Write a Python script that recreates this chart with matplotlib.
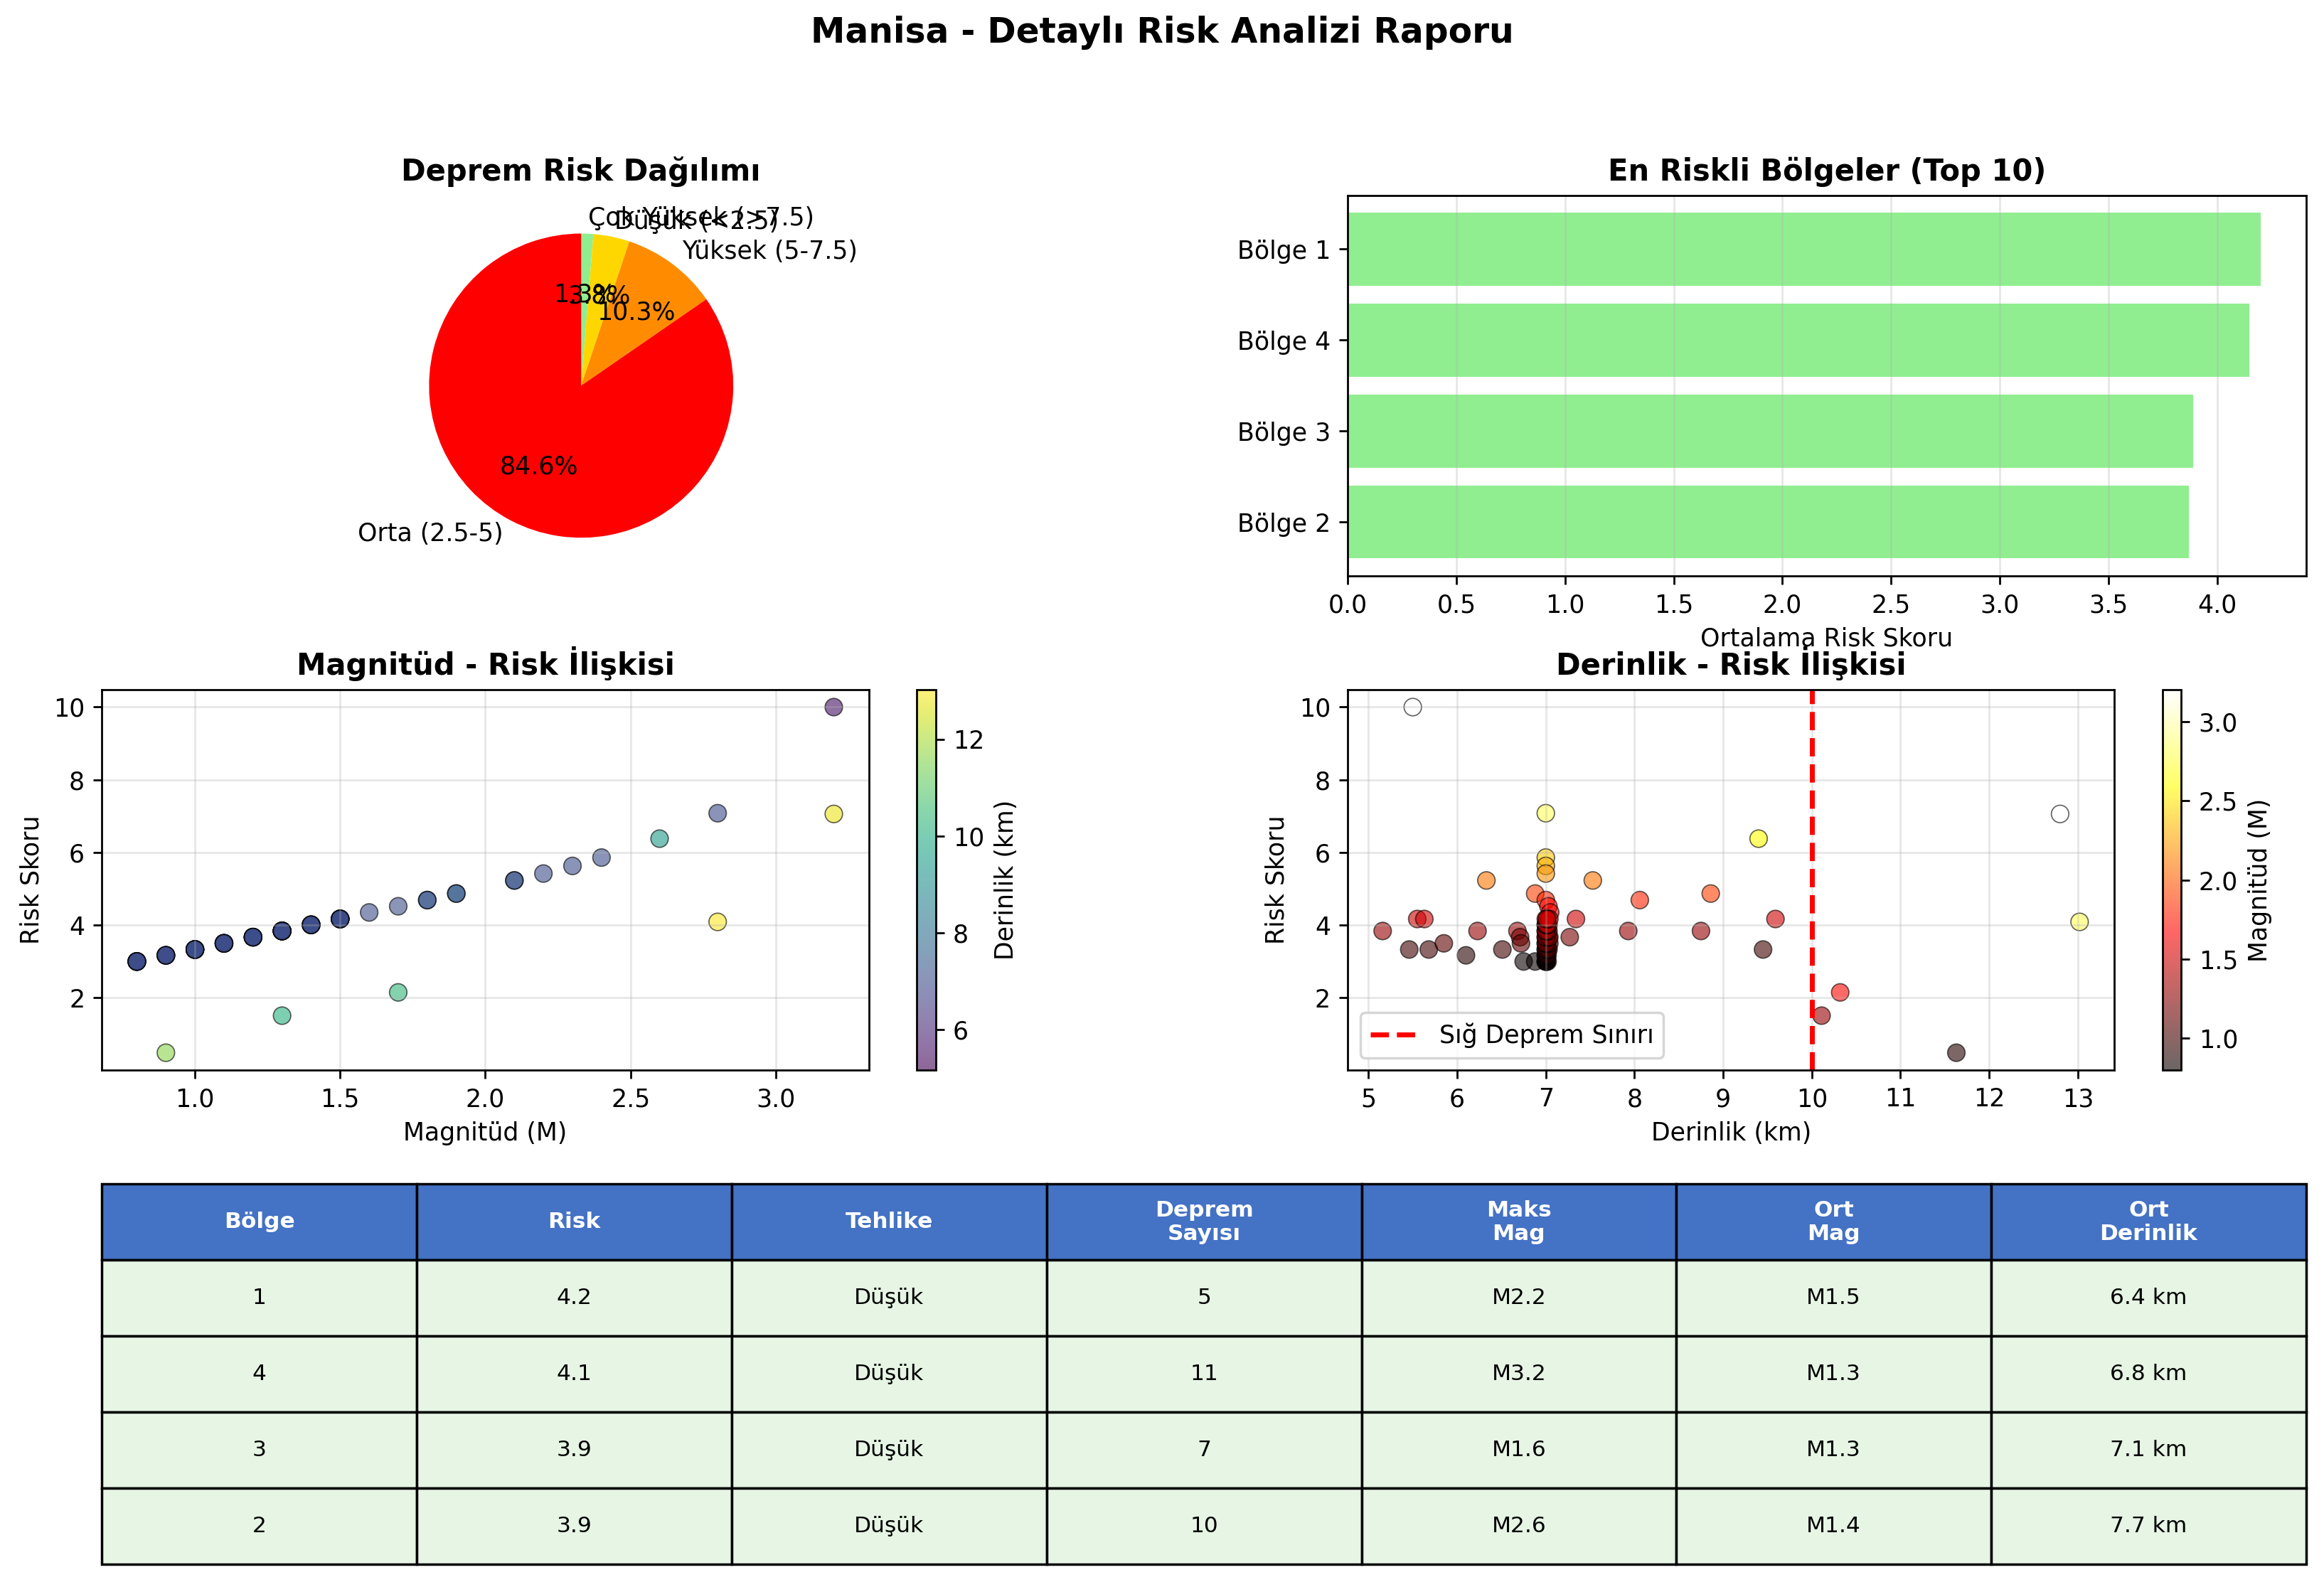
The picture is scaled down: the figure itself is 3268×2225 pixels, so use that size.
import matplotlib
matplotlib.use('Agg')
import matplotlib.pyplot as plt
from matplotlib.gridspec import GridSpec

# --- earthquake events (magnitude, depth km, risk score) ---
magnitudes = [
    3.2, 3.2, 2.8, 2.8, 2.6, 2.4, 2.3, 2.2, 2.1, 2.1,
    1.9, 1.9, 1.8, 1.8, 1.7, 1.7, 1.6,
    1.5, 1.5, 1.5, 1.5,
    1.3, 1.3, 1.3, 1.3, 1.3, 1.3,
    1.0, 1.0, 1.1, 0.9, 1.0, 1.2, 1.1, 1.2, 0.8, 0.8, 1.0, 0.9,
    # cluster at ~7 km
    0.8, 0.8, 0.8, 0.8, 0.8,
    0.9, 0.9, 0.9, 0.9,
    1.0, 1.0, 1.0, 1.0, 1.0,
    1.1, 1.1, 1.1, 1.1, 1.1,
    1.2, 1.2, 1.2, 1.2, 1.2,
    1.3, 1.3, 1.3, 1.3, 1.3,
    1.4, 1.4, 1.4, 1.4, 1.4, 1.4,
    1.5, 1.5, 1.5, 1.5,
]
depths = [
    5.50, 12.80, 7.00, 13.02, 9.40, 7.00, 7.00, 7.00, 6.33, 7.53,
    8.86, 6.88, 8.06, 7.00, 10.32, 7.03, 7.05,
    9.59, 7.34, 5.55, 5.63,
    10.11, 8.75, 7.93, 5.16, 6.23, 6.68,
    5.46, 5.68, 5.85, 6.10, 6.51, 6.71, 6.72, 7.27, 6.75, 6.88, 9.45, 11.63,
    7.00, 7.00, 7.01, 7.00, 7.02,
    7.00, 7.01, 7.00, 7.02,
    7.00, 7.01, 7.02, 7.00, 7.03,
    7.00, 7.02, 7.01, 7.04, 7.00,
    7.00, 7.03, 7.01, 7.00, 7.04,
    7.00, 7.02, 7.01, 7.03, 7.00,
    7.00, 7.01, 7.02, 7.00, 7.03, 7.01,
    7.00, 7.02, 7.04, 7.01,
]
risk_scores = [
    10.00, 7.06, 7.08, 4.09, 6.38, 5.86, 5.63, 5.42, 5.23, 5.23,
    4.87, 4.87, 4.69, 4.69, 2.15, 4.52, 4.35,
    4.17, 4.17, 4.17, 4.17,
    1.51, 3.84, 3.84, 3.84, 3.84, 3.84,
    3.33, 3.33, 3.50, 3.17, 3.33, 3.67, 3.50, 3.67, 3.00, 3.00, 3.33, 0.49,
    3.00, 3.00, 3.00, 3.00, 3.00,
    3.17, 3.17, 3.17, 3.17,
    3.33, 3.33, 3.33, 3.33, 3.33,
    3.50, 3.50, 3.50, 3.50, 3.50,
    3.67, 3.67, 3.67, 3.67, 3.67,
    3.84, 3.84, 3.84, 3.84, 3.84,
    4.01, 4.01, 4.01, 4.01, 4.01, 4.01,
    4.17, 4.17, 4.17, 4.17,
]

# --- pie: risk category counts ---
pie_labels = ['Çok Yüksek (>7.5)', 'Düşük (<2.5)', 'Yüksek (5-7.5)', 'Orta (2.5-5)']
pie_counts = [1, 3, 8, 66]
pie_colors = ['lightgreen', 'gold', 'darkorange', 'red']

# --- top regions ---
region_names = ['Bölge 1', 'Bölge 4', 'Bölge 3', 'Bölge 2']
region_risk = [4.20, 4.15, 3.89, 3.87]

# --- summary table ---
table_header = ['Bölge', 'Risk', 'Tehlike', 'Deprem\nSayısı', 'Maks\nMag', 'Ort\nMag', 'Ort\nDerinlik']
table_rows = [
    ['1', '4.2', 'Düşük', '5', 'M2.2', 'M1.5', '6.4 km'],
    ['4', '4.1', 'Düşük', '11', 'M3.2', 'M1.3', '6.8 km'],
    ['3', '3.9', 'Düşük', '7', 'M1.6', 'M1.3', '7.1 km'],
    ['2', '3.9', 'Düşük', '10', 'M2.6', 'M1.4', '7.7 km'],
]

fig = plt.figure(figsize=(13.072, 8.9), dpi=250)
gs = GridSpec(3, 2, figure=fig, left=0.0439, right=0.9923, top=0.8764,
              bottom=0.0112, hspace=0.3, wspace=0.3)
fig.suptitle('Manisa - Detaylı Risk Analizi Raporu', fontsize=14,
             fontweight='bold', y=1 - 46 / 2225, va='center')

# Pie chart
ax1 = fig.add_subplot(gs[0, 0])
ax1.pie(pie_counts, labels=pie_labels, colors=pie_colors, autopct='%1.1f%%',
        startangle=90, counterclock=False)
ax1.set_title('Deprem Risk Dağılımı', fontsize=12, fontweight='bold')

# Top regions bar chart
ax2 = fig.add_subplot(gs[0, 1])
ax2.barh(range(len(region_names)), region_risk, color='lightgreen')
ax2.set_yticks(range(len(region_names)))
ax2.set_yticklabels(region_names)
ax2.invert_yaxis()
ax2.set_xlabel('Ortalama Risk Skoru')
ax2.set_title('En Riskli Bölgeler (Top 10)', fontsize=12, fontweight='bold')
ax2.grid(True, axis='x', alpha=0.3)

# Magnitude vs risk
ax3 = fig.add_subplot(gs[1, 0])
sc1 = ax3.scatter(magnitudes, risk_scores, c=depths, cmap='viridis', s=50,
                  alpha=0.6, edgecolors='black', linewidth=0.5)
ax3.set_xlabel('Magnitüd (M)')
ax3.set_ylabel('Risk Skoru')
ax3.set_title('Magnitüd - Risk İlişkisi', fontsize=12, fontweight='bold')
ax3.grid(True, alpha=0.3)
cb1 = fig.colorbar(sc1, ax=ax3)
cb1.set_label('Derinlik (km)')

# Depth vs risk
ax4 = fig.add_subplot(gs[1, 1])
sc2 = ax4.scatter(depths, risk_scores, c=magnitudes, cmap='hot', s=50,
                  alpha=0.6, edgecolors='black', linewidth=0.5)
ax4.axvline(x=10, color='red', linestyle='--', linewidth=2, label='Sığ Deprem Sınırı')
ax4.set_xlabel('Derinlik (km)')
ax4.set_ylabel('Risk Skoru')
ax4.set_title('Derinlik - Risk İlişkisi', fontsize=12, fontweight='bold')
ax4.legend(loc='lower left')
ax4.grid(True, alpha=0.3)
cb2 = fig.colorbar(sc2, ax=ax4)
cb2.set_label('Magnitüd (M)')

# Summary table
ax5 = fig.add_subplot(gs[2, :])
ax5.axis('off')
table = ax5.table(cellText=table_rows, colLabels=table_header, cellLoc='center',
                  loc='center', bbox=[0, 0, 1, 1])
table.auto_set_font_size(False)
table.set_fontsize(9)
for (row, col), cell in table.get_celld().items():
    cell.set_edgecolor('black')
    if row == 0:
        cell.set_facecolor('#4472C4')
        cell.set_text_props(color='white', fontweight='bold')
    else:
        cell.set_facecolor('#E6F5E4')

fig.savefig('out.png', dpi=250)
